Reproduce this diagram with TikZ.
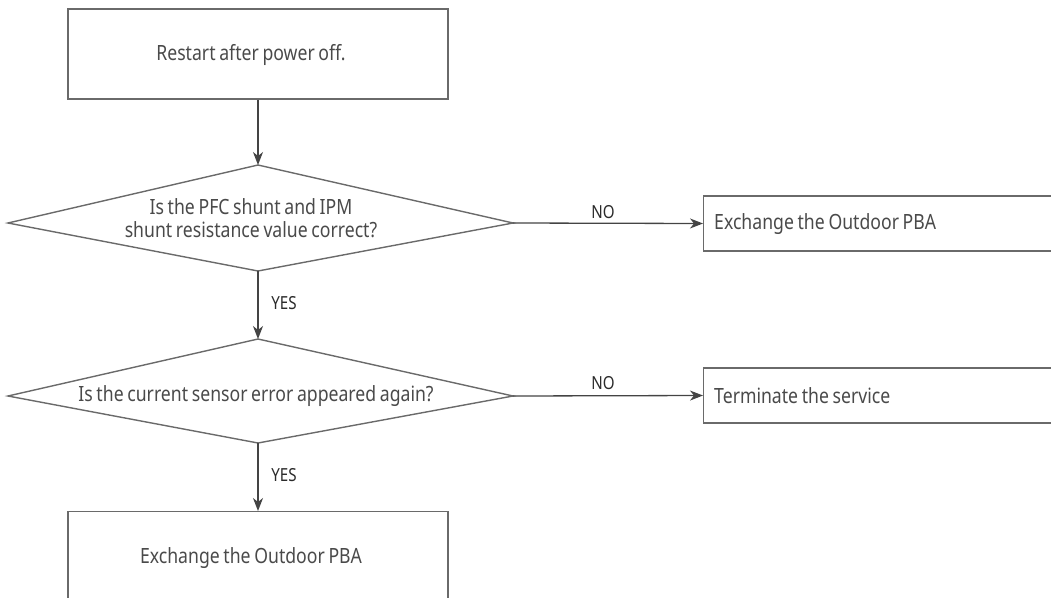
\documentclass[tikz,border=0pt]{standalone}
\usepackage{fontspec}
\setmainfont{Noto Sans}[FakeStretch=0.84, WordSpace=0.8]
\usetikzlibrary{arrows.meta}
\definecolor{linec}{HTML}{444444}
\definecolor{boxc}{HTML}{6A6A6A}
\definecolor{textc}{HTML}{4A4A4A}
\definecolor{lblc}{HTML}{2A2A2A}
\begin{document}
\begin{tikzpicture}[x=1pt,y=-1pt,
  conn/.style={draw=linec, line width=1.3pt, -{Stealth[length=13pt,width=10pt,inset=4pt]}},
  boxline/.style={draw=boxc, line width=1.4pt},
  txt/.style={font=\fontsize{21}{23}\selectfont, text=textc, inner sep=0pt},
  lbl/.style={font=\fontsize{18}{20}\selectfont, text=lblc, inner sep=0pt}]
\useasboundingbox (0,0) rectangle (1051,597);
\clip (0,0) rectangle (1051,597);
% start box
\node[boxline, rectangle, minimum width=380pt, minimum height=90pt, inner sep=0pt] (start) at (258,54) {};
\node[txt] (starttxt) at (251,55) {Restart after power off.};
% diamond 1
\coordinate (d1t) at (258,165);
\coordinate (d1r) at (513,223);
\coordinate (d1b) at (258,271);
\coordinate (d1l) at (8,223);
\draw[boxline] (d1t) -- (d1r) -- (d1b) -- (d1l) -- cycle;
\node[txt, align=center] (q1) at (251,218) {Is the PFC shunt and IPM\\shunt resistance value correct?};
% diamond 2
\coordinate (d2t) at (258,339);
\coordinate (d2r) at (513,396);
\coordinate (d2b) at (258,443);
\coordinate (d2l) at (8,396);
\draw[boxline] (d2t) -- (d2r) -- (d2b) -- (d2l) -- cycle;
\node[txt] (q2) at (256,396) {Is the current sensor error appeared again?};
% right boxes
\node[boxline, rectangle, anchor=west, minimum width=400pt, minimum height=55pt, inner sep=0pt] (ex1) at (703,223.5) {};
\node[txt, anchor=west] (ex1txt) at (714,224) {Exchange the Outdoor PBA};
\node[boxline, rectangle, anchor=west, minimum width=400pt, minimum height=55pt, inner sep=0pt] (term) at (703,395.5) {};
\node[txt, anchor=west] (termtxt) at (714,396) {Terminate the service};
% final box
\node[boxline, rectangle, anchor=north, minimum width=380pt, minimum height=110pt, inner sep=0pt] (final) at (258,511) {};
\node[txt] (finaltxt) at (251,558) {Exchange the Outdoor PBA};
% connectors
\draw[conn] (start.south) -- (d1t);
\draw[conn] (d1b) -- (d2t);
\draw[conn] (d2b) -- (final.north);
\draw[conn] (d1r) -- (ex1.west);
\draw[conn] (d2r) -- (term.west);
% labels
\node[lbl] (no1) at (603,212) {NO};
\node[lbl] (no2) at (603,383) {NO};
\node[lbl] (yes1) at (284,303) {YES};
\node[lbl] (yes2) at (284,475) {YES};
\end{tikzpicture}
\end{document}
